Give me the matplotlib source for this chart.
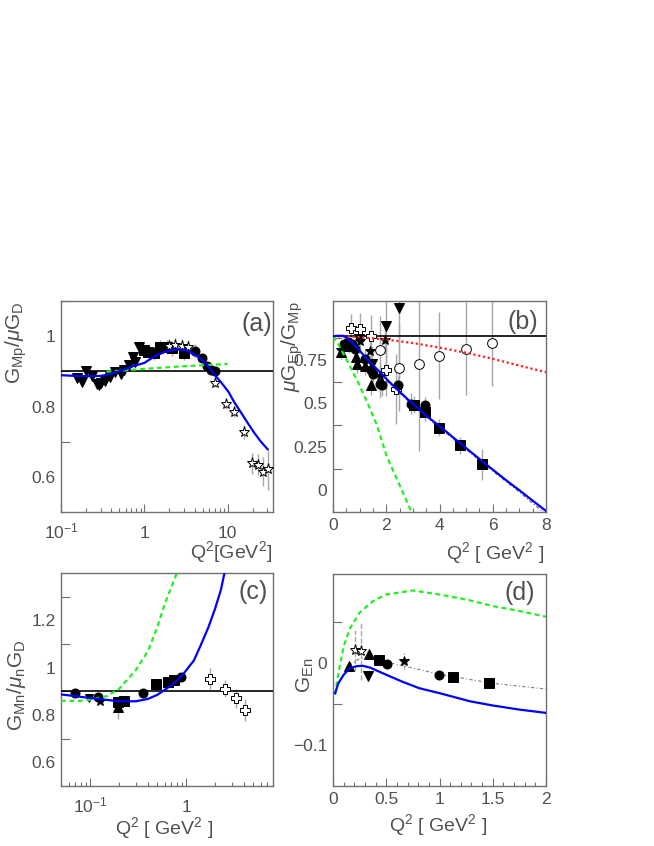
import numpy as np
import matplotlib
matplotlib.use('Agg')
import matplotlib.pyplot as plt
from matplotlib.ticker import FixedLocator, NullFormatter, LogLocator

plt.rcParams['font.family'] = ['Liberation Sans', 'DejaVu Sans']
plt.rcParams['mathtext.fontset'] = 'custom'
plt.rcParams['mathtext.rm'] = 'Liberation Sans'
plt.rcParams['mathtext.it'] = 'Liberation Sans:italic'

TXT = '#505050'
FRAME = '#707070'
ERRC = '#a8a8a8'

# ---------------- panel (a): G_Mp / mu G_D ----------------
a_dtri_x = [0.157, 0.180, 0.197, 0.237, 0.27, 0.285, 0.30, 0.34, 0.39, 0.45, 0.52, 0.566, 0.65, 0.725, 0.78, 0.855]
a_dtri_y = [0.880, 0.870, 0.900, 0.887, 0.865, 0.862, 0.868, 0.872, 0.884, 0.897, 0.893, 0.903, 0.918, 0.940, 0.927, 0.970]
a_dtri_e = [0.008, 0.008, 0.008, 0.008, 0.008, 0.008, 0.008, 0.01, 0.01, 0.01, 0.01, 0.012, 0.012, 0.015, 0.015, 0.015]
a_sq_x = [0.98, 1.1, 1.3, 1.55, 1.85, 2.15, 2.95]
a_sq_y = [0.962, 0.955, 0.953, 0.968, 0.970, 0.965, 0.952]
a_sq_e = [0.015, 0.015, 0.02, 0.02, 0.02, 0.02, 0.02]
a_circ_x = [4.05, 4.9, 5.6, 6.3, 7.0]
a_circ_y = [0.957, 0.938, 0.915, 0.905, 0.900]
a_circ_e = [0.02, 0.015, 0.012, 0.01, 0.01]
a_ostar_x = [2.0, 2.35, 2.8, 3.3, 7.05, 9.47, 11.9, 15.6, 19.4, 22.8, 26.6, 30.5]
a_ostar_y = [0.972, 0.975, 0.973, 0.970, 0.866, 0.807, 0.785, 0.728, 0.638, 0.634, 0.615, 0.622]
a_ostar_e = [0.02, 0.02, 0.02, 0.02, 0.01, 0.015, 0.015, 0.02, 0.03, 0.03, 0.04, 0.06]

a_blue_x = [0.1, 0.15, 0.22, 0.3, 0.4, 0.54, 0.7, 1.0, 1.35, 1.8, 2.35, 3.0, 3.4, 4.45, 5.1, 5.9,
            7.06, 8.5, 10.2, 12, 14.7, 17.5, 21, 25, 30]
a_blue_y = [0.889, 0.887, 0.886, 0.887, 0.893, 0.903, 0.913, 0.924, 0.944, 0.956, 0.962, 0.961, 0.957,
            0.941, 0.928, 0.913, 0.889, 0.866, 0.842, 0.812, 0.780, 0.752, 0.724, 0.700, 0.679]
a_green_x = [0.35, 0.6, 1, 2, 4, 7, 10]
a_green_y = [0.899, 0.903, 0.907, 0.912, 0.916, 0.919, 0.921]

# ---------------- panel (b): mu G_Ep / G_Mp ----------------
b_ocross_x = [0.66, 1.0, 1.44, 2.0, 2.38]
b_ocross_y = [0.935, 0.93, 0.89, 0.695, 0.584]
b_ocross_e = [0.08, 0.09, 0.12, 0.15, 0.2]
b_ocirc_x = [1.77, 2.49, 3.24, 3.98, 4.98, 5.98]
b_ocirc_y = [0.805, 0.707, 0.728, 0.776, 0.816, 0.85]
b_ocirc_e = [0.2, 0.25, 0.5, 0.25, 0.27, 0.25]
b_dtri_x = [0.98, 1.45, 2.0, 2.47]
b_dtri_y = [0.872, 0.73, 0.948, 1.05]
b_dtri_e = [0.08, 0.1, 0.25, 0.4]
b_fstar_x = [0.31, 1.0, 1.38, 1.75, 1.97]
b_fstar_y = [0.805, 0.862, 0.80, 0.657, 0.868]
b_fstar_e = [0.04, 0.05, 0.06, 0.08, 0.08]
b_tri_x = [0.31, 0.6, 0.875, 0.91, 1.19, 1.41]
b_tri_y = [0.795, 0.83, 0.766, 0.728, 0.714, 0.607]
b_tri_e = [0.04, 0.04, 0.05, 0.05, 0.05, 0.06]
b_circ_x = [0.42, 0.55, 0.7, 0.81, 1.2, 1.44, 1.5, 1.75, 1.85, 2.44, 2.94, 3.47]
b_circ_y = [0.845, 0.855, 0.84, 0.814, 0.757, 0.69, 0.67, 0.613, 0.605, 0.607, 0.498, 0.489]
b_circ_e = [0.03, 0.03, 0.03, 0.04, 0.05, 0.05, 0.05, 0.08, 0.06, 0.05, 0.06, 0.05]
b_sq_x = [3.04, 3.46, 3.98, 4.77, 5.58]
b_sq_y = [0.494, 0.45, 0.36, 0.259, 0.149]
b_sq_e = [0.05, 0.05, 0.05, 0.05, 0.09]

b_blue_x = [0, 0.2, 0.4, 0.6, 0.95, 1.3, 1.7, 2.05, 2.45, 2.8, 3.0, 3.55, 4, 4.5, 5, 5.5, 6, 6.5, 7, 7.5, 8]
b_blue_y = [0.887, 0.890, 0.889, 0.868, 0.814, 0.750, 0.690, 0.634, 0.575, 0.525, 0.498, 0.423, 0.370,
            0.306, 0.243, 0.180, 0.119, 0.058, 0.0, -0.060, -0.119]
b_fit_x = [2, 3, 4, 5, 6, 7, 7.5, 7.9]
b_fit_y = [0.63, 0.49, 0.36, 0.235, 0.11, -0.01, -0.075, -0.125]
b_red_x = [0, 0.5, 1, 2, 3, 4, 5, 6, 7, 8]
b_red_y = [0.887, 0.886, 0.882, 0.868, 0.848, 0.822, 0.792, 0.757, 0.718, 0.680]
b_green_x = [0, 0.19, 0.56, 0.94, 1.31, 1.63, 2.02, 2.5, 2.95]
b_green_y = [0.885, 0.843, 0.737, 0.622, 0.498, 0.383, 0.195, 0.03, -0.125]

# ---------------- panel (c): G_Mn / mu_n G_D ----------------
c_circ_x = [0.0697, 0.122, 0.355, 0.893]
c_circ_y = [0.894, 0.874, 0.891, 0.961]
c_circ_e = [0.01, 0.01, 0.01, 0.012]
c_dtri_x = [0.098]
c_dtri_y = [0.870]
c_dtri_e = [0.01]
c_star_x = [0.127]
c_star_y = [0.860]
c_star_e = [0.01]
c_tri_x = [0.197]
c_tri_y = [0.832]
c_tri_e = [0.05]
c_sq_x = [0.197, 0.226, 0.49, 0.648, 0.755]
c_sq_y = [0.855, 0.86, 0.930, 0.94, 0.946]
c_sq_e = [0.01, 0.01, 0.01, 0.01, 0.01]
c_ocross_x = [1.79, 2.51, 3.27, 4.1]
c_ocross_y = [0.954, 0.912, 0.870, 0.821]
c_ocross_e = [0.045, 0.035, 0.04, 0.045]

c_blue_x = [0.05, 0.1, 0.2, 0.3, 0.4, 0.5, 0.7, 0.9, 1.2, 1.4, 1.7, 2.0, 2.3, 2.5]
c_blue_y = [0.887, 0.872, 0.858, 0.858, 0.868, 0.885, 0.925, 0.965, 1.03, 1.09, 1.17, 1.25, 1.33, 1.40]
c_green_x = [0.05, 0.08, 0.1, 0.15, 0.2, 0.3, 0.4, 0.5, 0.6, 0.8]
c_green_y = [0.86, 0.86, 0.865, 0.88, 0.91, 0.99, 1.07, 1.17, 1.27, 1.40]

# ---------------- panel (d): G_En ----------------
d_tri_x = [0.150, 0.341]
d_tri_y = [-0.0037, 0.011]
d_tri_e = [0.004, 0.004]
d_ostar_x = [0.207, 0.26]
d_ostar_y = [0.015, 0.0145]
d_ostar_e = [0.025, 0.035]
d_dtri_x = [0.332]
d_dtri_y = [-0.016]
d_dtri_e = [0.004]
d_sq_x = [0.432, 1.13, 1.468]
d_sq_y = [0.0037, -0.0175, -0.0248]
d_sq_e = [0.003, 0.003, 0.003]
d_circ_x = [0.504, 0.998]
d_circ_y = [-0.001, -0.0155]
d_circ_e = [0.003, 0.003]
d_fstar_x = [0.670]
d_fstar_y = [0.0024]
d_fstar_e = [0.01]

d_fit_x = [0.15, 0.25, 0.35, 0.5, 0.7, 1.0, 1.5, 2.0]
d_fit_y = [-0.003, 0.005, 0.005, 0.001, -0.005, -0.014, -0.025, -0.032]
d_blue_x = [0.02, 0.05, 0.1, 0.16, 0.22, 0.28, 0.35, 0.5, 0.65, 0.81, 1.0, 1.29, 1.5, 1.75, 2.0]
d_blue_y = [-0.037, -0.025, -0.0146, -0.0065, -0.0042, -0.0037, -0.006, -0.0146, -0.023, -0.031, -0.037,
            -0.047, -0.052, -0.057, -0.061]
d_green_x = [0.02, 0.05, 0.1, 0.16, 0.25, 0.375, 0.5, 0.75, 1.0, 1.25, 1.5, 1.75, 2.0]
d_green_y = [-0.039, -0.0126, 0.020, 0.042, 0.061, 0.075, 0.083, 0.088, 0.083, 0.077, 0.069, 0.063, 0.056]


def pts(ax, x, y, e, marker, ms=6.5, filled=True, els='-'):
    mfc = 'black' if filled else 'white'
    _, _, bars = ax.errorbar(x, y, yerr=e, fmt=marker, ms=ms, mfc=mfc, mec='black',
                             mew=0.7, ecolor=ERRC, elinewidth=1, capsize=0, zorder=4)
    for b in bars:
        b.set_linestyle(els)
        b.set_zorder(2)


def style(ax, ytick_pos, ylab_pos, ylab_txt):
    for s in ax.spines.values():
        s.set_color(FRAME)
        s.set_linewidth(1.0)
    ax.tick_params(which='both', direction='in', colors=FRAME, labelcolor=TXT,
                   labelsize=12.5, top=False, right=False)
    ax.tick_params(axis='x', which='major', length=6, width=0.8)
    ax.tick_params(axis='x', which='minor', length=2.8, width=0.8)
    # ticks and labels sit at different heights on the y axis
    ax.yaxis.set_major_locator(FixedLocator(ytick_pos))
    ax.yaxis.set_major_formatter(NullFormatter())
    ax.set_yticks(ylab_pos, labels=ylab_txt, minor=True)
    ax.tick_params(axis='y', which='major', length=6.5, width=0.8)
    ax.tick_params(axis='y', which='minor', length=0, pad=4)


def label_txt(ax, s, x, y):
    ax.text(x, y, s, transform=ax.transAxes, ha='right', va='center', fontsize=18, color=TXT)


fig = plt.figure(figsize=(6.54, 8.46), dpi=100)
ax_a = fig.add_axes([0.0933, 0.3948, 0.3242, 0.2494])
ax_b = fig.add_axes([0.5092, 0.3948, 0.3257, 0.2494])
ax_c = fig.add_axes([0.0933, 0.0709, 0.3242, 0.2518])
ax_d = fig.add_axes([0.5092, 0.0709, 0.3257, 0.2506])

blue = dict(color='#0000ff', lw=1.6, zorder=5)
green = dict(color='#22ee22', lw=1.6, ls=(0, (2.2, 1.6)), zorder=5)

# (a)
ax = ax_a
ax.set_xscale('log')
ax.set_xlim(0.1, 35)
ax.set_ylim(0.5, 1.1)
ax.axhline(0.9, color='black', lw=1.2, zorder=3)
pts(ax, a_dtri_x, a_dtri_y, a_dtri_e, 'v', ms=7)
pts(ax, a_sq_x, a_sq_y, a_sq_e, 's')
pts(ax, a_circ_x, a_circ_y, a_circ_e, 'o')
pts(ax, a_ostar_x, a_ostar_y, a_ostar_e, '*', ms=8, filled=False)
ax.plot(a_green_x, a_green_y, **green)
ax.plot(a_blue_x, a_blue_y, **blue)
ax.set_xticks([0.1, 1, 10], labels=['$10^{-1}$', '1', '10'])
ax.xaxis.set_minor_locator(LogLocator(base=10, subs=np.arange(2, 10)))
ax.xaxis.set_minor_formatter(NullFormatter())
style(ax, [0.7, 0.9, 1.1], [0.6, 0.8, 1.0], ['0.6', '0.8', '1'])
label_txt(ax, '(a)', 0.995, 0.89)
ax.text(-0.21, 1.0, r'G$_{\rm Mp}$/$\mu$G$_{\rm D}$', transform=ax.transAxes, rotation=90,
        ha='center', va='top', fontsize=15, color=TXT)
ax.text(0.995, -0.19, r'Q$^2$[GeV$^2$]', transform=ax.transAxes, ha='right', va='center',
        fontsize=14, color=TXT)

# (b)
ax = ax_b
ax.set_xlim(0, 8)
ax.set_ylim(-0.125, 1.09)
ax.axhline(0.887, color='black', lw=1.2, zorder=3)
pts(ax, b_ocross_x, b_ocross_y, b_ocross_e, 'P', ms=7.5, filled=False)
pts(ax, b_ocirc_x, b_ocirc_y, b_ocirc_e, 'o', ms=7, filled=False)
pts(ax, b_dtri_x, b_dtri_y, b_dtri_e, 'v', ms=7)
pts(ax, b_fstar_x, b_fstar_y, b_fstar_e, '*', ms=7.5)
pts(ax, b_tri_x, b_tri_y, b_tri_e, '^', ms=7)
pts(ax, b_circ_x, b_circ_y, b_circ_e, 'o')
pts(ax, b_sq_x, b_sq_y, b_sq_e, 's')
ax.plot(b_fit_x, b_fit_y, color='#606060', lw=0.8, ls=(0, (3, 2, 1, 2)), zorder=4)
ax.plot(b_red_x, b_red_y, color='#ff2020', lw=1.6, ls=(0, (1, 1.2)), zorder=5)
ax.plot(b_green_x, b_green_y, **green)
ax.plot(b_blue_x, b_blue_y, **blue)
ax.set_xticks([0, 2, 4, 6, 8], labels=['0', '2', '4', '6', '8'])
ax.xaxis.set_minor_locator(FixedLocator(np.arange(0.5, 8, 0.5)))
style(ax, [0.125, 0.375, 0.625, 0.875], [0, 0.25, 0.5, 0.75], ['0', '0.25', '0.5', '0.75'])
ax.tick_params(axis='x', which='major', pad=4)
label_txt(ax, '(b)', 0.962, 0.90)
ax.text(-0.19, 1.0, r'$\mu$G$_{\rm Ep}$/G$_{\rm Mp}$', transform=ax.transAxes, rotation=90,
        ha='center', va='top', fontsize=15, color=TXT)
ax.text(0.99, -0.194, r'Q$^2$ [ GeV$^2$ ]', transform=ax.transAxes, ha='right', va='center',
        fontsize=14, color=TXT)

# (c)
ax = ax_c
ax.set_xscale('log')
ax.set_xlim(0.05, 8)
ax.set_ylim(0.5, 1.4)
ax.axhline(0.9, color='black', lw=1.2, zorder=3)
pts(ax, c_circ_x, c_circ_y, c_circ_e, 'o')
pts(ax, c_dtri_x, c_dtri_y, c_dtri_e, 'v', ms=6)
pts(ax, c_star_x, c_star_y, c_star_e, '*', ms=7)
pts(ax, c_tri_x, c_tri_y, c_tri_e, '^', ms=7)
pts(ax, c_sq_x, c_sq_y, c_sq_e, 's')
pts(ax, c_ocross_x, c_ocross_y, c_ocross_e, 'P', ms=7.5, filled=False)
ax.plot(c_green_x, c_green_y, **green)
ax.plot(c_blue_x, c_blue_y, **blue)
ax.set_xticks([0.1, 1], labels=['$10^{-1}$', '1'])
ax.xaxis.set_minor_locator(LogLocator(base=10, subs=np.arange(2, 10)))
ax.xaxis.set_minor_formatter(NullFormatter())
style(ax, [0.7, 0.9, 1.1, 1.3], [0.6, 0.8, 1.0, 1.2], ['0.6', '0.8', '1', '1.2'])
label_txt(ax, '(c)', 0.976, 0.91)
ax.text(-0.21, 0.69, r'G$_{\rm Mn}$/$\mu_{\rm n}$G$_{\rm D}$', transform=ax.transAxes, rotation=90,
        ha='center', va='top', fontsize=15, color=TXT)
ax.text(0.717, -0.195, r'Q$^2$ [ GeV$^2$ ]', transform=ax.transAxes, ha='right', va='center',
        fontsize=14, color=TXT)

# (d)
ax = ax_d
ax.set_xlim(0, 2)
ax.set_ylim(-0.15, 0.108)
pts(ax, d_ostar_x, d_ostar_y, d_ostar_e, '*', ms=8, filled=False, els='--')
pts(ax, d_tri_x, d_tri_y, d_tri_e, '^', ms=7, els='--')
pts(ax, d_dtri_x, d_dtri_y, d_dtri_e, 'v', ms=7, els='--')
pts(ax, d_sq_x, d_sq_y, d_sq_e, 's', els='--')
pts(ax, d_circ_x, d_circ_y, d_circ_e, 'o', els='--')
pts(ax, d_fstar_x, d_fstar_y, d_fstar_e, '*', ms=7.5, els='--')
ax.plot(d_fit_x, d_fit_y, color='#808080', lw=0.8, ls=(0, (3, 2, 1, 2)), zorder=3)
ax.plot(d_green_x, d_green_y, **green)
ax.plot(d_blue_x, d_blue_y, **blue)
ax.set_xticks([0, 0.5, 1, 1.5, 2], labels=['0', '0.5', '1', '1.5', '2'])
ax.xaxis.set_minor_locator(FixedLocator(np.arange(0.1, 2, 0.1)))
style(ax, [-0.05, 0.05], [-0.1, 0.0], ['\u22120.1', '0'])
ax.tick_params(axis='x', which='major', pad=4)
label_txt(ax, '(d)', 0.948, 0.91)
ax.text(-0.13, 0.52, r'G$_{\rm En}$', transform=ax.transAxes, rotation=90,
        ha='center', va='center', fontsize=15, color=TXT)
ax.text(0.723, -0.183, r'Q$^2$ [ GeV$^2$ ]', transform=ax.transAxes, ha='right', va='center',
        fontsize=14, color=TXT)

# log axes: put tick labels on a common baseline
for ax in (ax_a, ax_c):
    ax.tick_params(axis='x', which='major', pad=19)
    for lbl in ax.get_xticklabels():
        lbl.set_verticalalignment('baseline')

fig.savefig('out.png', dpi=100)
